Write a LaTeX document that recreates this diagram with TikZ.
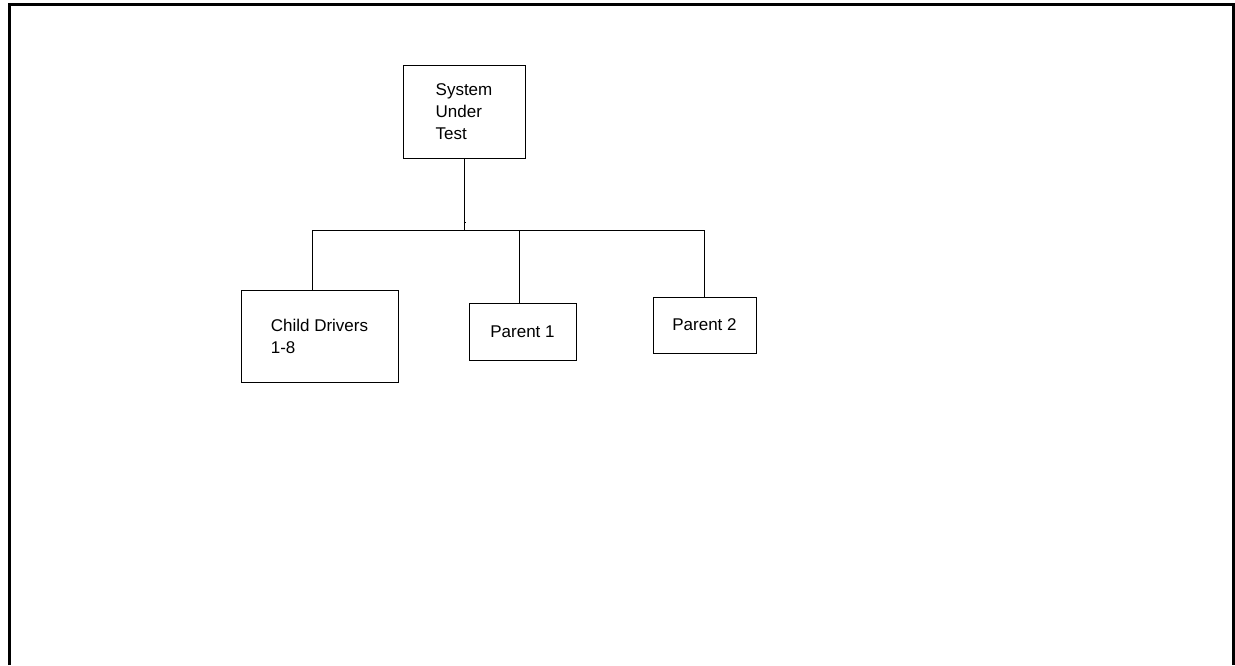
\documentclass[tikz,border=0pt]{standalone}
\usepackage{fontspec}
\setmainfont{Liberation Sans}
\usepackage{tikz}

\tikzset{
    box/.style={draw, line width=1pt, rectangle, align=left, inner sep=0pt},
    wire/.style={line width=1pt},
}

\begin{document}
\begin{tikzpicture}[x=1pt, y=-1pt, font=\fontsize{17}{22}\selectfont]
        \useasboundingbox (0,0) rectangle (1235,665);
        \draw[line width=3pt] (9.5,665) -- (9.5,4.7) -- (1233.7,4.7) -- (1233.7,665);

        \node[box, minimum width=122pt, minimum height=93pt] (sut) at (464,111.5) {System\\Under\\Test};
        \node[box, minimum width=157pt, minimum height=92pt] (child) at (319.5,336) {Child Drivers\\1-8};
        \node[box, minimum width=107pt, minimum height=57pt] (par1) at (522.5,331.5) {Parent 1};
        \node[box, minimum width=103pt, minimum height=56pt] (par2) at (704.5,325) {Parent 2};

        \coordinate (busL) at (312.5,230);
        \coordinate (busR) at (704.5,230);

        \draw[wire] (busL) -- (busR);
        \draw[wire] (sut.south) -- (sut.south |- busL);
        \draw[wire] (busL) -- (busL |- child.north);
        \draw[wire] ([xshift=-3pt]par1.north) -- ([xshift=-3pt]par1.north |- busL);
        \draw[wire] (busR) -- (par2.north);
        \draw[wire] ([xshift=0.5pt]sut.south |- 0,222) -- +(1.5,0);
    \end{tikzpicture}
\end{document}
